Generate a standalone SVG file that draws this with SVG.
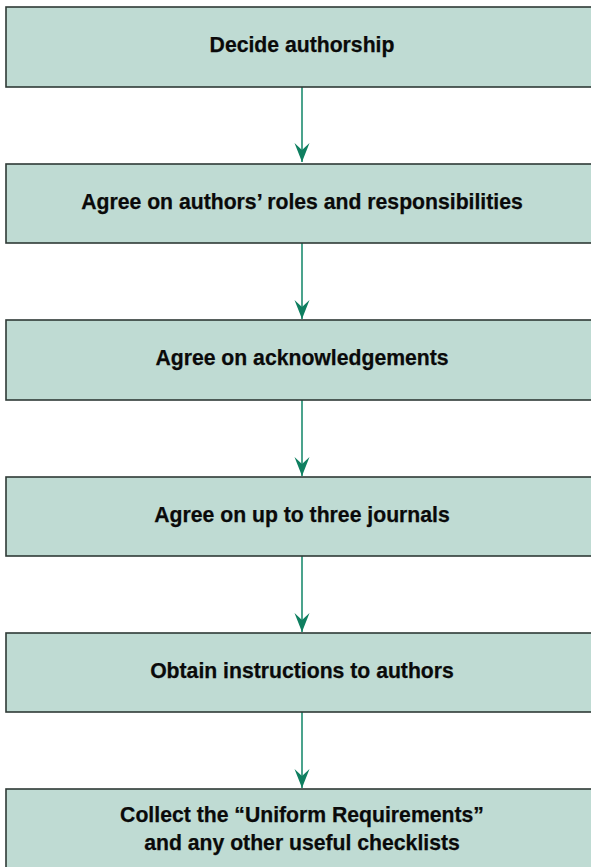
<svg xmlns="http://www.w3.org/2000/svg" width="591" height="867" viewBox="0 0 591 867">
<defs>
<style>
.box{fill:#bfdbd3;stroke:#2f3a36;stroke-width:1.6}
.lbl{font-family:"Liberation Sans",Arial,Helvetica,sans-serif;font-weight:bold;font-size:21.2px;fill:#0a0a0a;text-anchor:middle;stroke:#0a0a0a;stroke-width:0.25}
.conn{stroke:#1d8c70;stroke-width:1.6;fill:none}
</style>
<marker id="ah" markerUnits="userSpaceOnUse" markerWidth="22" markerHeight="20" viewBox="-21 -10 22 20" refX="0" refY="0" orient="auto">
<path d="M0,0 L-19,-7.5 L-12,0 L-19,7.5 Z" fill="#0f7f60"/>
</marker>
</defs>
<rect width="591" height="867" fill="#ffffff"/>
<g id="connectors">
<line class="conn" x1="302" y1="87" x2="302" y2="162" marker-end="url(#ah)"/>
<line class="conn" x1="302" y1="243" x2="302" y2="319" marker-end="url(#ah)"/>
<line class="conn" x1="302" y1="400" x2="302" y2="476" marker-end="url(#ah)"/>
<line class="conn" x1="302" y1="556" x2="302" y2="632" marker-end="url(#ah)"/>
<line class="conn" x1="302" y1="712" x2="302" y2="788" marker-end="url(#ah)"/>
</g>
<g id="n1"><rect class="box" x="6" y="7" width="594" height="80"/><text class="lbl" x="302" y="52">Decide authorship</text></g>
<g id="n2"><rect class="box" x="6" y="164" width="594" height="79"/><text class="lbl" x="302" y="209">Agree on authors’ roles and responsibilities</text></g>
<g id="n3"><rect class="box" x="6" y="320" width="594" height="80"/><text class="lbl" x="302" y="365">Agree on acknowledgements</text></g>
<g id="n4"><rect class="box" x="6" y="477" width="594" height="79"/><text class="lbl" x="302" y="522">Agree on up to three journals</text></g>
<g id="n5"><rect class="box" x="6" y="633" width="594" height="79"/><text class="lbl" x="302" y="678">Obtain instructions to authors</text></g>
<g id="n6"><rect class="box" x="6" y="789" width="594" height="90"/><text class="lbl" x="302" y="822">Collect the “Uniform Requirements”</text><text class="lbl" x="302" y="850">and any other useful checklists</text></g>
</svg>
